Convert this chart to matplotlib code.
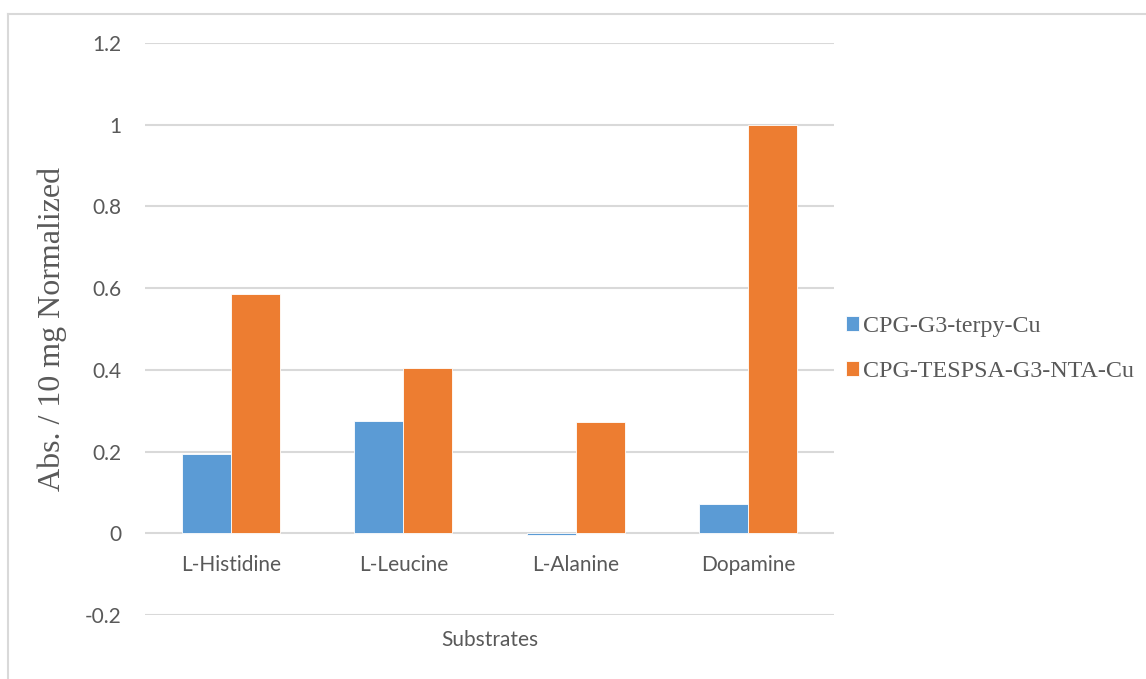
import matplotlib.pyplot as plt
import numpy as np
from matplotlib.lines import Line2D

substrates = ["L-Histidine", "L-Leucine", "L-Alanine", "Dopamine"]
terpy_cu = [0.193, 0.274, -0.004, 0.071]
nta_cu = [0.585, 0.405, 0.272, 1.0]
series_names = ["CPG-G3-terpy-Cu", "CPG-TESPSA-G3-NTA-Cu"]

W, H = 1146, 679
fig = plt.figure(figsize=(W / 100, H / 100), dpi=100)
ax = fig.add_axes([145 / W, (H - 615) / H, (834 - 145) / W, (615 - 43) / H])

sans = "Lato"
serif = "Liberation Serif"
gray = "#595959"
grid = "#D9D9D9"

x = np.arange(len(substrates))
w = 0.285
b1 = ax.bar(x - w / 2, terpy_cu, w, color="#5B9BD5", edgecolor="white", linewidth=0.6,
            label=series_names[0], zorder=3)
b2 = ax.bar(x + w / 2, nta_cu, w, color="#ED7D31", edgecolor="white", linewidth=0.6,
            label=series_names[1], zorder=3)

ax.set_xlim(-0.5, len(substrates) - 0.5)
ax.set_ylim(-0.2, 1.2)
yt = np.arange(-0.2, 1.21, 0.2)
ax.set_yticks(yt)
ax.set_yticklabels(["-0.2", "0", "0.2", "0.4", "0.6", "0.8", "1", "1.2"],
                   fontfamily=sans, fontsize=15, color=gray)
ax.tick_params(axis="y", length=0, pad=17)
ax.set_xticks(x)
ax.set_xticklabels([""] * len(x))
ax.tick_params(axis="x", length=0)
ax.grid(axis="y", color=grid, linewidth=1.5, zorder=0)
for s in ax.spines.values():
    s.set_visible(False)

# category labels sit under the zero line
for i, name in enumerate(substrates):
    ax.annotate(name, xy=(i, 0), xytext=(0, -23), textcoords="offset points",
                ha="center", va="center", fontfamily=sans, fontsize=15, color=gray)

ax.set_xlabel("Substrates", fontfamily=sans, fontsize=15, color=gray, labelpad=7)
ax.set_ylabel("Abs. / 10 mg Normalized", fontfamily=serif, fontsize=23, color=gray,
              labelpad=13)

fig.legend(handles=[b1, b2], loc="center left", bbox_to_anchor=(846 / W, 1 - 349 / H),
           frameon=False, prop={"family": serif, "size": 17.3}, labelcolor=gray,
           borderpad=0, borderaxespad=0,
           handlelength=0.55, handleheight=0.55, handletextpad=0.15, labelspacing=1.0)

# chart frame
fig.add_artist(Line2D([7.5 / W, 7.5 / W], [0, 1 - 13.5 / H], color=grid, lw=1.5))
fig.add_artist(Line2D([7.5 / W, 1], [1 - 13.5 / H, 1 - 13.5 / H], color=grid, lw=1.5))

fig.savefig("out.png", dpi=100, facecolor="white")
